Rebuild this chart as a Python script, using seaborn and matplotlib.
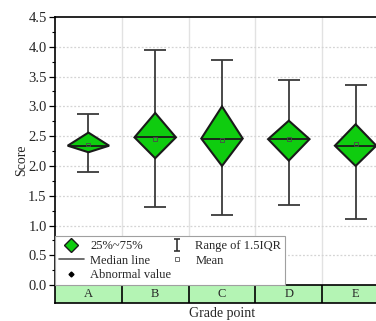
import numpy as np
import pandas as pd
import seaborn as sns
import matplotlib
matplotlib.use('Agg')
import matplotlib.pyplot as plt
from matplotlib.lines import Line2D
from matplotlib.patches import Polygon, Rectangle
from matplotlib.path import Path

grades = ['A', 'B', 'C', 'D', 'E']
whisker_low = [1.90, 1.31, 1.17, 1.34, 1.11]
q1 = [2.23, 2.13, 2.00, 2.09, 2.00]
median = [2.34, 2.48, 2.46, 2.45, 2.34]
q3 = [2.56, 2.89, 3.00, 2.76, 2.70]
whisker_high = [2.87, 3.94, 3.78, 3.45, 3.36]
mean = [2.36, 2.46, 2.44, 2.46, 2.37]
ytick_vals = [0.0, 0.5, 1.0, 1.5, 2.0, 2.5, 3.0, 3.5, 4.0, 4.5]

df = pd.DataFrame({'grade': grades, 'low': whisker_low, 'q1': q1, 'median': median,
                   'q3': q3, 'high': whisker_high, 'mean': mean})
df['pos'] = np.arange(len(df))

sns.set_theme(style='white')
plt.rcParams['font.family'] = ['Liberation Serif', 'DejaVu Serif']

fig = plt.figure(figsize=(3.76, 3.21), dpi=100)
ax = fig.add_axes([55 / 376, 18 / 321, 334 / 376, 286 / 321])
ax.set_xlim(-0.5, 4.5)
ax.set_ylim(-0.3, 4.5)

# grid
ax.vlines([0.5, 1.5, 2.5, 3.5], 0, 4.5, color='#e2e2e2', lw=1.0, zorder=0)
ax.hlines(ytick_vals[1:-1], -0.5, 4.5, color='#d4d4d4', lw=0.9, linestyles=(0, (1.5, 1.5)), zorder=0)

hw = 0.31
cap = 0.165
edge = '#1a1a1a'
green = '#0fcc0f'
for _, r in df.iterrows():
    x = r['pos']
    ax.vlines(x, r['low'], r['high'], color='#3a3a3a', lw=1.3, zorder=2)
    ax.hlines([r['low'], r['high']], x - cap, x + cap, color='#3a3a3a', lw=1.3, zorder=2)
    poly = Polygon([(x - hw, r['median']), (x, r['q3']), (x + hw, r['median']), (x, r['q1'])],
                   closed=True, facecolor=green, edgecolor=edge, lw=1.5, zorder=3)
    ax.add_patch(poly)
    ax.hlines(r['median'], x - hw, x + hw, color=edge, lw=1.3, zorder=4)

sns.scatterplot(data=df, x='pos', y='mean', marker='s', s=8, facecolor='none',
                edgecolor='#4a4a4a', linewidth=0.6, ax=ax, zorder=5, legend=False)

# category band
ax.add_patch(Rectangle((-0.5, -0.3), 5, 0.3, facecolor='#b4f4b4', edgecolor='black', lw=1.2, zorder=6))
ax.vlines([0.5, 1.5, 2.5, 3.5], -0.3, 0, color='black', lw=1.2, zorder=7)
for i, g in enumerate(grades):
    ax.text(i, -0.15, g, ha='center', va='center', fontsize=9, zorder=8)

# axes styling
ax.set_yticks(ytick_vals)
ax.set_yticklabels([f'{v:.1f}' for v in ytick_vals], fontsize=10.5)
ax.set_yticks(np.arange(0.25, 4.5, 0.5), minor=True)
ax.tick_params(axis='y', which='major', direction='out', length=4, width=0.9, color='black', pad=2, left=True)
ax.tick_params(axis='y', which='minor', direction='out', length=2.5, width=0.8, color='black', left=True)
ax.set_xticks([])
for s in ax.spines.values():
    s.set_color('black')
    s.set_linewidth(1.2)
ax.set_ylabel('Score', fontsize=10, labelpad=0)
ax.set_xlabel('Grade point', fontsize=10, labelpad=3)

# legend
ibeam = Path([(-0.5, 1), (0.5, 1), (0, 1), (0, -1), (-0.5, -1), (0.5, -1)],
             [Path.MOVETO, Path.LINETO, Path.MOVETO, Path.LINETO, Path.MOVETO, Path.LINETO])
handles = [
    Line2D([], [], marker='D', ls='none', markersize=7, markerfacecolor=green, markeredgecolor=edge),
    Line2D([], [], color='#555555', lw=1.2),
    Line2D([], [], marker='D', ls='none', markersize=2.5, color='black'),
    Line2D([], [], marker=ibeam, ls='none', markersize=9, markeredgecolor='#333333', markeredgewidth=1.2),
    Line2D([], [], marker='s', ls='none', markersize=2.5, markerfacecolor='none', markeredgecolor='#555555', markeredgewidth=0.6),
]
labels = ['25%~75%', 'Median line', 'Abnormal value', 'Range of 1.5IQR', 'Mean']
leg = ax.legend(handles, labels, ncol=2, loc='lower left', mode='expand',
                bbox_to_anchor=(0, 0.3 / 4.8, 230 / 334, 48 / 286), borderaxespad=0,
                fontsize=9, frameon=True, fancybox=False, framealpha=1,
                labelspacing=0.22, handlelength=2.0, handletextpad=0.5, borderpad=0.3,
                columnspacing=0.8)
leg.get_frame().set_edgecolor('#a0a0a0')
leg.get_frame().set_linewidth(0.8)
leg.set_zorder(10)

fig.savefig('out.png', dpi=100)
